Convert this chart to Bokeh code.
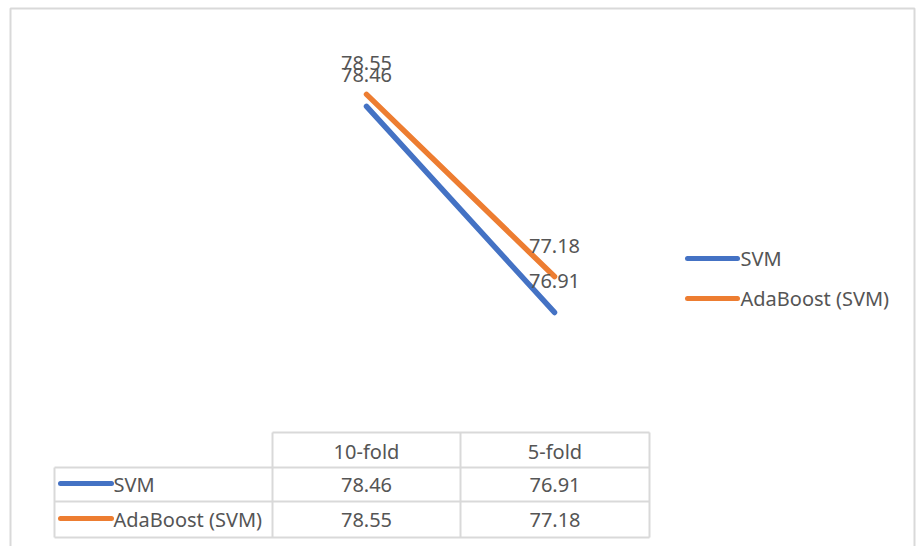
from bokeh.plotting import figure
from bokeh.models import Range1d
from bokeh.embed import file_html
from bokeh.resources import INLINE
from bokeh.core.properties import value

# ---------------- data ----------------
categories = ["10-fold", "5-fold"]
series_names = ["SVM", "AdaBoost (SVM)"]
svm_values = [78.46, 76.91]
adaboost_values = [78.55, 77.18]
series_values = [svm_values, adaboost_values]
series_colors = ["#4472C4", "#ED7D31"]

# ---------------- layout (pixels) ----------------
W, H = 916, 546
CAT_X0, CAT_STEP = 366, 188          # pixel x of first category, spacing
AX_MIN, AX_MAX = 76.0, 79.0          # hidden value axis
PLOT_TOP, PLOT_BOTTOM = 34, 433      # pixel y of AX_MAX / AX_MIN

FONT = value("Noto Sans")
FSIZE = "20px"
TXT = "#555555"
GRID = "#D9D9D9"

ppu = (PLOT_BOTTOM - PLOT_TOP) / (AX_MAX - AX_MIN)
y_top = AX_MAX + PLOT_TOP / ppu
y_bottom = AX_MIN - (H - PLOT_BOTTOM) / ppu
x_start = -CAT_X0 / CAT_STEP
x_end = (W - CAT_X0) / CAT_STEP

p = figure(width=W, height=H,
           x_range=Range1d(x_start, x_end), y_range=Range1d(y_bottom, y_top),
           output_backend="svg", toolbar_location=None, min_border=0,
           x_axis_location=None, y_axis_location=None)
p.grid.visible = False
p.outline_line_color = None
p.background_fill_color = "white"
p.border_fill_color = "white"
p.extra_x_ranges = {"px": Range1d(0, W)}
p.extra_y_ranges = {"px": Range1d(H, 0)}
PX = dict(x_range_name="px", y_range_name="px")

# outer chart border
p.quad(left=[10], right=[914], top=[8], bottom=[H + 6], fill_color=None,
       line_color=GRID, line_width=2, **PX)

# ---------------- lines ----------------
xs = list(range(len(categories)))
for vals, col in zip(series_values, series_colors):
    p.line(xs, vals, line_color=col, line_width=5.5, line_cap="round")

# ---------------- data labels ----------------
for vals in series_values:
    p.text(xs, vals, text=[f"{v:.2f}" for v in vals], y_offset=-31,
           text_align="center", text_baseline="middle",
           text_font=FONT, text_font_size=FSIZE, text_color=TXT)

# ---------------- legend (right) ----------------
LEG_X0, LEG_X1, LEG_TX = 687, 737, 740
LEG_Y = [258, 298]
for name, col, ly in zip(series_names, series_colors, LEG_Y):
    p.segment(x0=[LEG_X0], y0=[ly], x1=[LEG_X1], y1=[ly], line_color=col,
              line_width=5, line_cap="round", **PX)
    p.text(x=[LEG_TX], y=[ly], text=[name], text_align="left",
           text_baseline="middle", text_font=FONT, text_font_size=FSIZE,
           text_color=TXT, **PX)

# ---------------- data table ----------------
T_LEFT, T_C0, T_C1, T_C2, T_RIGHT = 54, 272, 460, 649, 649
R_TOP, R_H1, R_H2, R_BOT = 432, 467, 501, 537
col_lefts = [T_C0, T_C1]
col_rights = [T_C1, T_C2]
row_tops = [R_H1, R_H2]
row_bots = [R_H2, R_BOT]

hx0 = [T_C0, T_LEFT, T_LEFT, T_LEFT]
hx1 = [T_RIGHT] * 4
hy = [R_TOP, R_H1, R_H2, R_BOT]
p.segment(x0=hx0, y0=hy, x1=hx1, y1=hy, line_color=GRID, line_width=2, **PX)
vx = [T_LEFT, T_C0, T_C1, T_C2]
vy0 = [R_H1, R_TOP, R_TOP, R_TOP]
vy1 = [R_BOT] * 4
p.segment(x0=vx, y0=vy0, x1=vx, y1=vy1, line_color=GRID, line_width=2, **PX)

# header
for cat, l, r in zip(categories, col_lefts, col_rights):
    p.text(x=[(l + r) / 2], y=[(R_TOP + R_H1) / 2 + 1], text=[cat],
           text_align="center", text_baseline="middle", text_font=FONT,
           text_font_size=FSIZE, text_color=TXT, **PX)

# rows
for name, col, vals, rt, rb in zip(series_names, series_colors, series_values,
                                  row_tops, row_bots):
    cy = (rt + rb) / 2
    p.segment(x0=[60], y0=[cy - 1], x1=[111], y1=[cy - 1], line_color=col,
              line_width=5, line_cap="round", **PX)
    p.text(x=[113], y=[cy], text=[name], text_align="left",
           text_baseline="middle", text_font=FONT, text_font_size=FSIZE,
           text_color=TXT, **PX)
    for v, l, r in zip(vals, col_lefts, col_rights):
        p.text(x=[(l + r) / 2], y=[cy], text=[f"{v:.2f}"],
               text_align="center", text_baseline="middle", text_font=FONT,
               text_font_size=FSIZE, text_color=TXT, **PX)

open("out.html", "w").write(file_html(p, INLINE))
